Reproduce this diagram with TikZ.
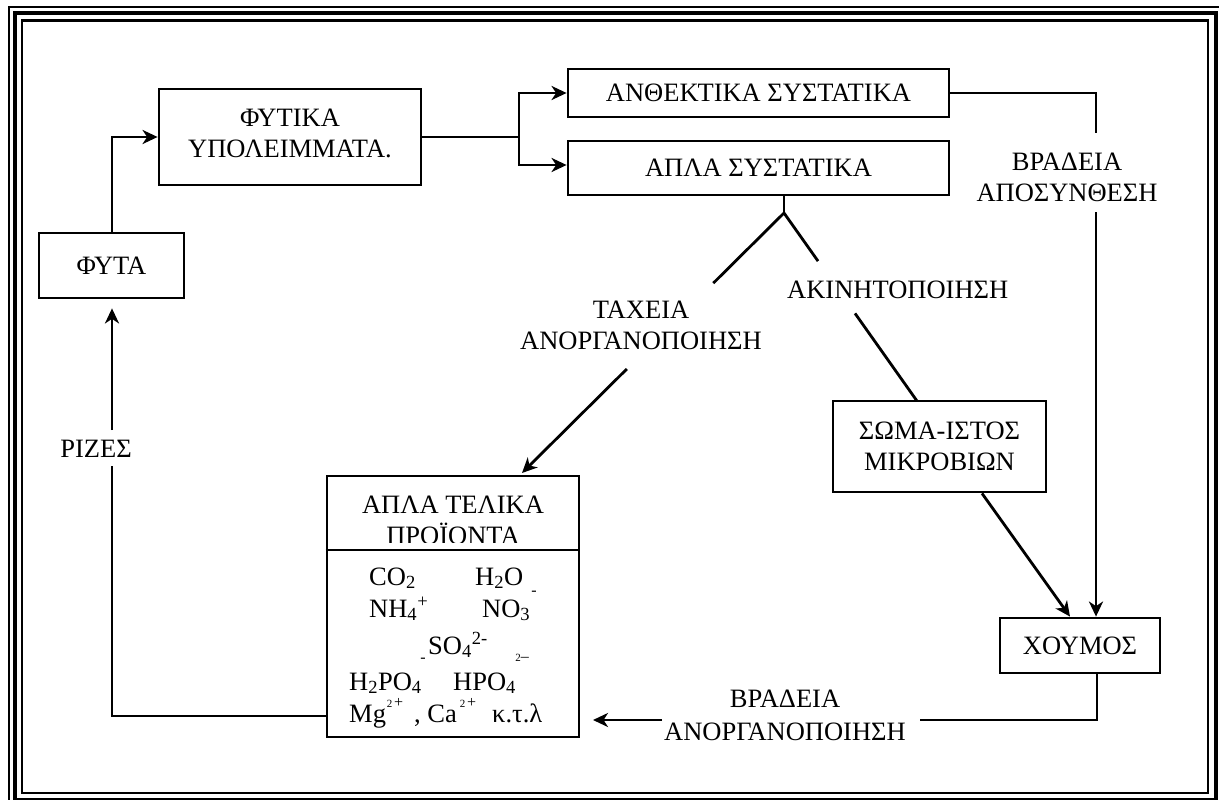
\documentclass[tikz,border=0pt]{standalone}
\usepackage{fontspec}
\setmainfont{Liberation Serif}
\usetikzlibrary{arrows.meta,calc}
\newcommand{\fsz}{\fontsize{26.5}{31}\selectfont}
\newcommand{\tinysup}{\fontsize{11}{11}\selectfont}
\newcommand{\smallsup}{\fontsize{16}{16}\selectfont}
\tikzset{
  box/.style={draw, line width=2.8pt, align=center, inner sep=0pt, font=\fsz},
  txt/.style={align=center, inner sep=0pt, font=\fsz},
  chem/.style={inner sep=0pt, anchor=base west, font=\fsz},
  sup/.style={inner sep=0pt, anchor=center},
  conn/.style={line width=2.8pt},
  arr/.style={conn, -{Stealth[length=15pt,width=14pt,inset=4.5pt]}}
}
\begin{document}
\begin{tikzpicture}[x=1pt,y=-1pt]
\useasboundingbox (0,0) rectangle (1219,800);
% frame
\draw[line width=2pt] (9,7) rectangle (1224,806);
\draw[line width=4pt] (14.5,13.5) rectangle (1216,799.5);
\draw[line width=2.5pt] (22,20.5) rectangle (1208,793);

% boxes
\node[box, minimum width=145, minimum height=65] (fyta) at (111.5,265.5) {ΦΥΤΑ};
\node[box, minimum width=262, minimum height=96] (fyt) at (290,137) {};
\node[txt] (fyttxt) at (290,133) {ΦΥΤΙΚΑ\\ΥΠΟΛΕΙΜΜΑΤΑ.};
\node[box, minimum width=381, minimum height=48] (anth) at (758.5,93) {ΑΝΘΕΚΤΙΚΑ ΣΥΣΤΑΤΙΚΑ};
\node[box, minimum width=381, minimum height=54] (aplasys) at (758.5,168) {ΑΠΛΑ ΣΥΣΤΑΤΙΚΑ};
\node[box, minimum width=213, minimum height=91] (soma) at (939.5,446.5) {ΣΩΜΑ-ΙΣΤΟΣ\\ΜΙΚΡΟΒΙΩΝ};
\node[box, minimum width=160, minimum height=55] (xoum) at (1080,645.5) {ΧΟΥΜΟΣ};
\node[box, minimum width=252, minimum height=261] (tel) at (453,606.5) {};
\draw[conn] (tel.west |- 0,550) -- (tel.east |- 0,550);
\begin{scope}
\clip (327,476) rectangle (579,542);
\node[txt, anchor=base] (teltitle) at (453,544) {ΑΠΛΑ ΤΕΛΙΚΑ\\ΠΡΟΪΟΝΤΑ};
\end{scope}

% formulas
\node[chem] (co2) at (369,585) {CO\textsubscript{2}};
\node[chem] (h2o) at (475,585) {H\textsubscript{2}O};
\node[sup] (m1) at (534,593) {\smallsup -};
\node[chem] (nh4) at (369,617) {NH\textsubscript{4}\textsuperscript{+}};
\node[chem] (no3) at (482,617) {NO\textsubscript{3}};
\node[chem] (so4) at (428,654) {SO\textsubscript{4}\textsuperscript{2-}};
\node[sup] (m2) at (423,660) {\smallsup -};
\node[chem] (h2po4) at (349,690) {H\textsubscript{2}PO\textsubscript{4}};
\node[chem] (hpo4) at (453,690) {HPO\textsubscript{4}};
\node[sup] (m3) at (522,658) {\tinysup 2\smallsup –};
\node[chem] (mg) at (349,722) {Mg};
\node[sup] (p1) at (395,703) {\tinysup 2\,\smallsup +};
\node[chem] (ca) at (414,722) {, Ca};
\node[sup] (p2) at (468,703) {\tinysup 2\,\smallsup +};
\node[chem] (ktl) at (492,722) {κ.τ.λ};

% labels
\node[txt] (vrad1) at (1067,177) {ΒΡΑΔΕΙΑ\\ΑΠΟΣΥΝΘΕΣΗ};
\node[txt, anchor=base west] (akin) at (787,298) {ΑΚΙΝΗΤΟΠΟΙΗΣΗ};
\node[txt] (tax) at (641,325.5) {ΤΑΧΕΙΑ\\ΑΝΟΡΓΑΝΟΠΟΙΗΣΗ};
\node[txt] (vrad2) at (785,715) {ΒΡΑΔΕΙΑ\\[2pt]ΑΝΟΡΓΑΝΟΠΟΙΗΣΗ};
\node[txt] (rizes) at (96,449) {ΡΙΖΕΣ};

% coordinates
\coordinate (sp) at (519,137);
\coordinate (br) at (784,213);
\coordinate (tt) at (522,473);
\coordinate (st) at (917,401);
\coordinate (vr1) at (1096,133);
\coordinate (vr2) at (1096,212);
\coordinate (b1) at (920,720);
\coordinate (b2) at (662,720);
\coordinate (b3) at (593,720);
\coordinate (r1) at (112,466);
\coordinate (r2) at (112,430);

% connectors
\draw[arr] (fyta.north -| 112,0) |- (fyt.west);
\draw[conn] (fyt.east) -- (sp);
\draw[arr] (sp) |- (anth.west);
\draw[arr] (sp) |- (aplasys.west |- 0,165);
\draw[conn] (anth.east) -| (vr1);
\draw[arr] (vr2) -- (xoum.north -| vr2);
\draw[conn] (aplasys.south -| br) -- (br);
\draw[conn] (br) -- ($(br)!0.27!(tt)$);
\draw[arr] ($(br)!0.6!(tt)$) -- (tt);
\draw[conn] (br) -- ($(br)!0.256!(st)$);
\draw[conn] ($(br)!0.534!(st)$) -- (st);
\draw[arr] (soma.south -| 982,0) -- (xoum.north -| 1070,0);
\draw[conn] (xoum.south -| 1097,0) |- (b1);
\draw[arr] (b2) -- (b3);
\draw[conn] (tel.west |- 0,716) -| (r1);
\draw[arr] (r2) -- ($(fyta.south -| 112,0)+(0,9)$);
\end{tikzpicture}
\end{document}
